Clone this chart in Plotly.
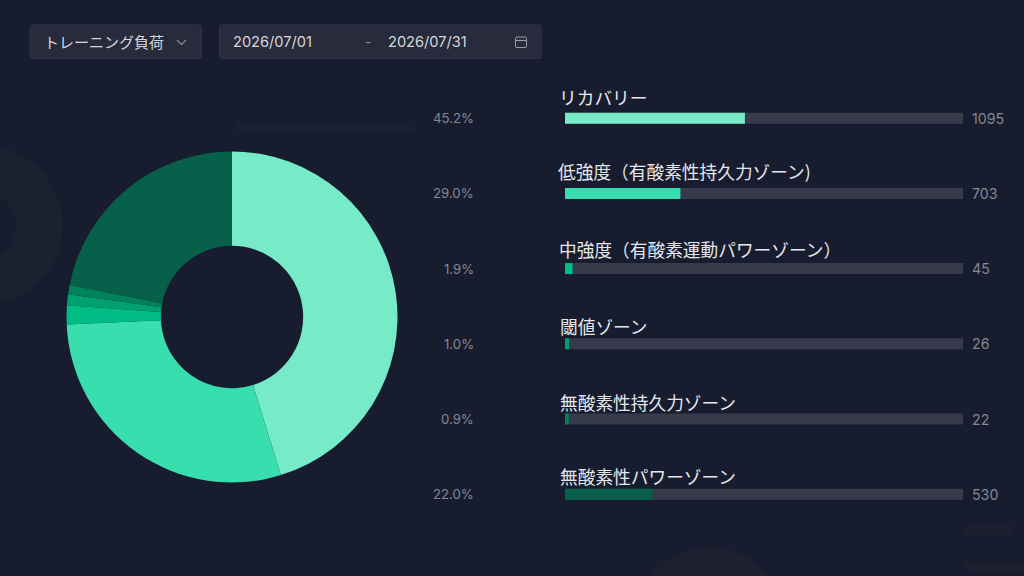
import plotly.graph_objects as go

zones = ["リカバリー", "低強度（有酸素性持久力ゾーン)", "中強度（有酸素運動パワーゾーン）", "閾値ゾーン", "無酸素性持久力ゾーン", "無酸素性パワーゾーン"]
counts = [1095, 703, 45, 26, 22, 530]
percents = [45.2, 29.0, 1.9, 1.0, 0.9, 22.0]
percent_labels = ["45.2%", "29.0%", "1.9%", "1.0%", "0.9%", "22.0%"]
colors = ["#77EBC7", "#38DEAE", "#00BD85", "#00A06F", "#008358", "#07604A"]
track_values = [100, 100, 100, 100, 100, 100]
dropdown_label = "トレーニング負荷"
date_start = "2026/07/01"
date_end = "2026/07/31"

W, H = 1024, 576
BG = "#171D2F"
PANEL = "#272B3C"
PANEL_LINE = "#2F3346"
JP = "Noto Sans CJK JP, Noto Sans, sans-serif"
LATIN = "Inter, Noto Sans CJK JP, sans-serif"

def px(v): return v / W
def py(v): return 1 - v / H

fig = go.Figure()

# donut
cx, cy, r = 232, 317, 165.5
fig.add_trace(go.Pie(
    values=counts, labels=zones, sort=False, direction="clockwise", rotation=0,
    hole=0.43, textinfo="none", showlegend=False, hoverinfo="label+percent",
    marker=dict(colors=colors, line=dict(width=0)),
    domain=dict(x=[px(cx - r), px(cx + r)], y=[py(cy + r), py(cy - r)]),
))

# bars
fig.add_trace(go.Bar(y=zones, x=track_values, orientation="h", width=0.146,
                     marker=dict(color="#373A4A", line=dict(width=0)), hoverinfo="skip", showlegend=False))
fig.add_trace(go.Bar(y=zones, x=percents, orientation="h", width=0.146,
                     marker=dict(color=colors, line=dict(width=0)), showlegend=False))

step = 75.2
top = 118.2 - step / 2
bottom = top + 6 * step
x0, x1 = 565, 963

annotations = []
def text(x, y, s, size, color, anchor="left", family=JP):
    annotations.append(dict(xref="paper", yref="paper", x=px(x), y=py(y), text=s, showarrow=False,
                            xanchor=anchor, yanchor="middle", borderpad=0, borderwidth=0,
                            font=dict(size=size, color=color, family=family)))

name_x = [559, 558, 559, 560, 560, 560]
name_y = [97, 171, 248.5, 326, 402, 476]
for i, z in enumerate(zones):
    yc = 118.2 + i * step
    text(name_x[i], name_y[i], z, 17.7, "#E6E7EA")
    text(972, yc, str(counts[i]), 14.2, "#85888F", family=LATIN)
    text(474, yc, percent_labels[i], 13.2, "#85888F", "right", family=LATIN)

text(43.5, 42, dropdown_label, 15, "#D6D7DB")
text(233, 42, date_start, 14.6, "#D6D7DB", family=LATIN)
text(388, 42, date_end, 14.6, "#D6D7DB", family=LATIN)
text(368, 42, "-", 14, "#8D909B", "center", family=LATIN)

def rect(a, b, c, d, fill):
    return dict(type="rect", xref="paper", yref="paper", x0=px(a), x1=px(c), y0=py(b), y1=py(d),
                fillcolor=fill, line=dict(width=0), layer="below")
def round_rect(a, b, c, d, rad, fill, line, layer="below"):
    pts = (f"M {px(a + rad)} {py(b)} L {px(c - rad)} {py(b)} Q {px(c)} {py(b)} {px(c)} {py(b + rad)} "
           f"L {px(c)} {py(d - rad)} Q {px(c)} {py(d)} {px(c - rad)} {py(d)} "
           f"L {px(a + rad)} {py(d)} Q {px(a)} {py(d)} {px(a)} {py(d - rad)} "
           f"L {px(a)} {py(b + rad)} Q {px(a)} {py(b)} {px(a + rad)} {py(b)} Z")
    return dict(type="path", xref="paper", yref="paper", path=pts, fillcolor=fill,
                line=dict(color=line, width=1), layer=layer)
def circle(a, b, rad, fill):
    return dict(type="circle", xref="paper", yref="paper", x0=px(a - rad), x1=px(a + rad),
                y0=py(b + rad), y1=py(b - rad), fillcolor=fill, line=dict(width=0), layer="below")
def path(d, color, width=1.2):
    return dict(type="path", xref="paper", yref="paper", path=d, line=dict(color=color, width=width), layer="above")

def P(points):
    return "M " + " L ".join(f"{px(a)} {py(b)}" for a, b in points)

shapes = [
    # faint background ghosts
    circle(-17, 225, 80, "#1A212F"),
    circle(-17, 225, 33, BG),
    circle(710, 622, 75, "#1E1F2F"),
    rect(235, 122, 415, 132, "#1A2031"),
    rect(965, 525, 1013, 535, "#1D1F2E"),
    rect(965, 562, 1024, 572, "#1D1F2E"),
    # controls
    round_rect(30, 25, 201.5, 58.5, 2, PANEL, PANEL_LINE),
    round_rect(219.5, 25, 541, 58.5, 2, PANEL, PANEL_LINE),
    path(P([(177, 40), (181.5, 44.5), (186, 40)]), "#8D909B"),
    round_rect(515.5, 37, 526.5, 47.5, 1.5, "rgba(0,0,0,0)", "#9B9EA8", layer="above"),
    path(P([(515.5, 40.5), (526.5, 40.5)]), "#9B9EA8"),
]

fig.update_layout(
    width=W, height=H, margin=dict(l=0, r=0, t=0, b=0),
    paper_bgcolor=BG, plot_bgcolor="rgba(0,0,0,0)",
    barmode="overlay", showlegend=False, annotations=annotations, shapes=shapes,
    xaxis=dict(domain=[px(x0), px(x1)], range=[0, 100], visible=False, fixedrange=True),
    yaxis=dict(domain=[py(bottom), py(top)], categoryorder="array", categoryarray=zones,
               range=[5.5, -0.5], visible=False, fixedrange=True),
)

fig.write_html("out.html", include_plotlyjs=True, config={"displayModeBar": False},
               post_script="document.body.style.margin='0';document.body.style.background='%s';" % BG)
